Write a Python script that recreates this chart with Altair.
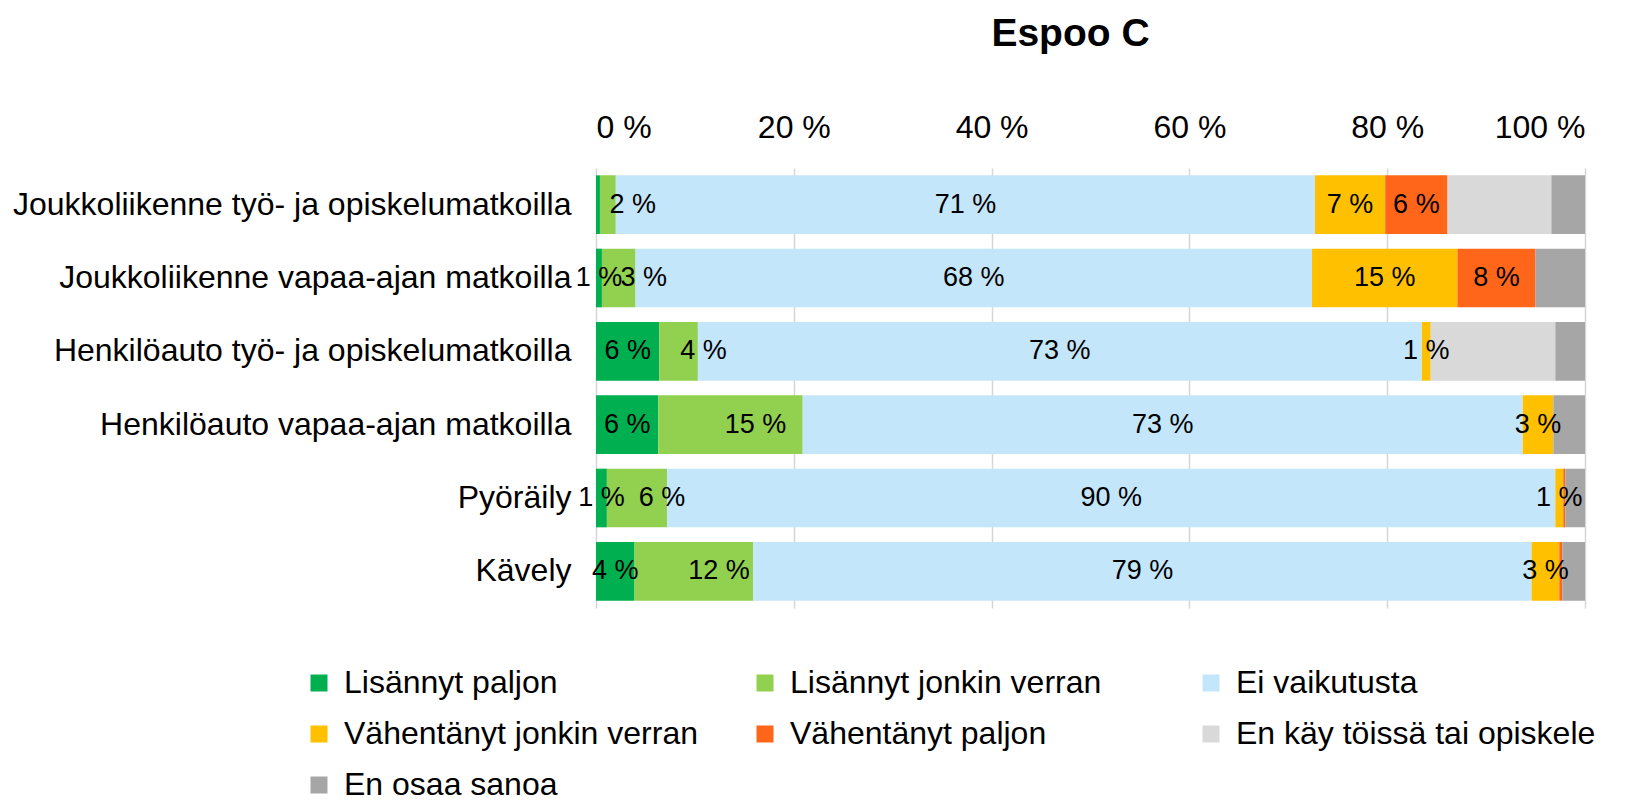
import altair as alt
import pandas as pd

FONT = "Liberation Sans"

rows = [
    "Joukkoliikenne työ- ja opiskelumatkoilla",
    "Joukkoliikenne vapaa-ajan matkoilla",
    "Henkilöauto työ- ja opiskelumatkoilla",
    "Henkilöauto vapaa-ajan matkoilla",
    "Pyöräily",
    "Kävely",
]
categories = [
    "Lisännyt paljon",
    "Lisännyt jonkin verran",
    "Ei vaikutusta",
    "Vähentänyt jonkin verran",
    "Vähentänyt paljon",
    "En käy töissä tai opiskele",
    "En osaa sanoa",
]
colors = ["#00b050", "#92d050", "#c3e6fb", "#ffc000", "#ff661a", "#d9d9d9", "#a6a6a6"]

lisannyt_paljon = [0.4, 0.6, 6.4, 6.3, 1.1, 3.9]
lisannyt_jonkin = [1.6, 3.4, 3.9, 14.6, 6.1, 12.0]
ei_vaikutusta = [70.7, 68.4, 73.2, 72.8, 89.8, 78.7]
vahentanyt_jonkin = [7.1, 14.7, 0.9, 3.1, 0.8, 2.8]
vahentanyt_paljon = [6.3, 7.9, 0.0, 0.0, 0.2, 0.3]
en_kay = [10.5, 0.0, 12.6, 0.0, 0.0, 0.0]
en_osaa = [3.4, 5.0, 3.0, 3.2, 2.0, 2.3]

series = [lisannyt_paljon, lisannyt_jonkin, ei_vaikutusta, vahentanyt_jonkin,
          vahentanyt_paljon, en_kay, en_osaa]

records = []
for ci, (cat, vals) in enumerate(zip(categories, series)):
    for r, v in zip(rows, vals):
        records.append({"row": r, "cat": cat, "order": ci, "value": v})
df = pd.DataFrame(records)

y_enc = alt.Y(
    "row:N", sort=rows, title=None,
    scale=alt.Scale(paddingInner=0.2, paddingOuter=0.1),
    axis=alt.Axis(labelFont=FONT, labelFontSize=32, labelColor="black",
                  labelPadding=25, labelLimit=800, domain=False, ticks=False, grid=False),
)

base = alt.Chart(df).transform_window(
    cum="sum(value)", groupby=["row"], sort=[alt.SortField("order")], frame=[None, 0]
).transform_calculate(
    start="datum.cum - datum.value",
    mid="datum.cum - datum.value / 2",
    lbl="round(datum.value) + ' %'",
)

bars = base.mark_bar().encode(
    y=y_enc,
    x=alt.X(
        "start:Q", title=None,
        scale=alt.Scale(domain=[0, 100], nice=False),
        axis=alt.Axis(orient="top", values=[0, 20, 40, 60, 80, 100],
                      labelExpr="datum.value + ' %'", labelFont=FONT, labelFontSize=32,
                      labelColor="black", labelPadding=24, domain=False, ticks=False,
                      grid=True, gridColor="#d6d6d6", gridWidth=1.5),
    ),
    x2="cum:Q",
    color=alt.Color(
        "cat:N", sort=categories,
        scale=alt.Scale(domain=categories, range=colors),
        legend=alt.Legend(
            title=None, orient="none", direction="horizontal",
            legendX=-293, legendY=499, columns=3,
            gridAlign="all", symbolType="square", symbolSize=289, symbolStrokeWidth=0,
            labelFont=FONT, labelFontSize=32, labelColor="black", labelOffset=9,
            columnPadding=45, rowPadding=19, labelLimit=800, padding=0,
        ),
    ),
)

label_filter = "datum.order < 5 && round(datum.value) >= 1"

labels_main = base.transform_filter(label_filter).transform_filter(
    "datum.order != 1"
).mark_text(font=FONT, fontSize=27, color="black").encode(
    y=alt.Y("row:N", sort=rows), x="mid:Q", text="lbl:N"
)
labels_lg = base.transform_filter(label_filter).transform_filter(
    "datum.order == 1"
).mark_text(font=FONT, fontSize=27, color="black", dx=25).encode(
    y=alt.Y("row:N", sort=rows), x="mid:Q", text="lbl:N"
)

chart = alt.layer(bars, labels_main, labels_lg).properties(
    width=989, height=440,
    title=alt.TitleParams("Espoo C", font=FONT, fontSize=39, fontWeight="bold",
                          color="black", anchor="middle", dx=-20, offset=57),
    padding={"left": 588, "top": 160, "right": 30, "bottom": 199},
    autosize="none",
).configure_view(stroke=None)

chart.save("out.html", embed_options={"renderer": "svg", "actions": False})
